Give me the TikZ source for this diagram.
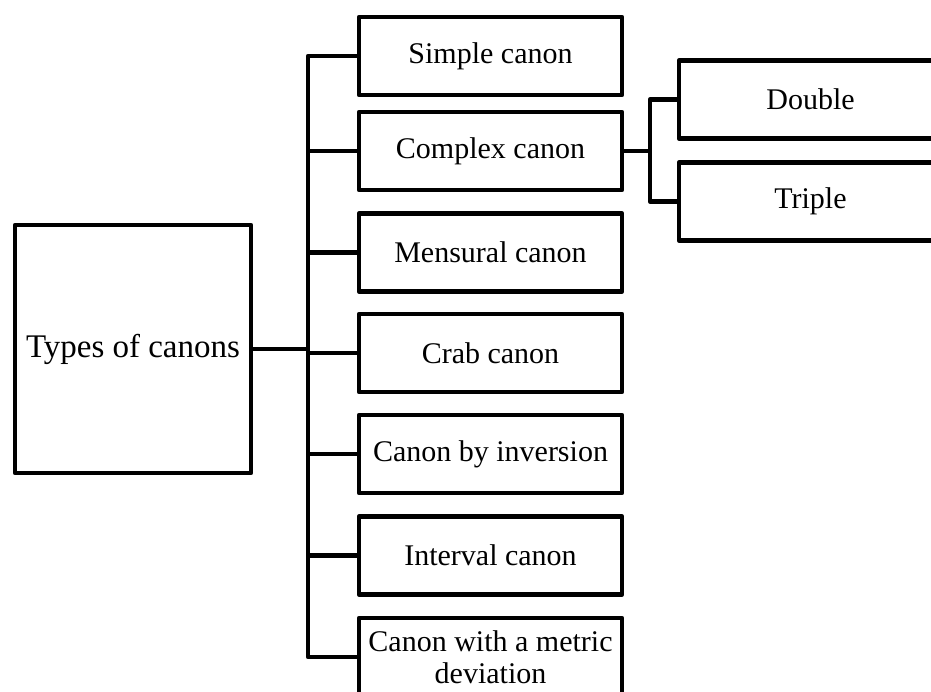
\documentclass[tikz,border=0pt]{standalone}
\usepackage{fontspec}
\setmainfont{Liberation Serif}

\begin{document}
\begin{tikzpicture}[x=1pt,y=-1pt,
  box/.style={draw,line width=4.5pt,line join=round,inner sep=0pt,align=center,
    minimum width=263pt,minimum height=78pt,font=\fontsize{30}{32}\selectfont},
  link/.style={line width=4.5pt,line join=round}]
\useasboundingbox (0,0) rectangle (931,692);

\node[box,minimum width=236pt,minimum height=248pt,font=\fontsize{33}{35}\selectfont] (types) at (133,349) {Types of canons};

\foreach \name/\ypos/\txt in {simple/56/Simple canon,complex/151/Complex canon,
  mensural/252.5/Mensural canon,crab/353/Crab canon,inversion/454/Canon by inversion,
  interval/555.5/Interval canon,metric/657/{Canon with a metric\\deviation}}
  \node[box] (\name) at (490.5,\ypos) {\txt};

\node[box] (double) at (810.5,99.5) {Double};
\node[box] (triple) at (810.5,201.5) {Triple};

\coordinate (trunk) at (308,0);
\coordinate (fork) at (650,0);

\draw[link] (types.east) -- (trunk|-types.east);
\draw[link] (simple.west) -- (trunk|-simple.west) -- (trunk|-metric.west) -- (metric.west);
\foreach \name in {complex,mensural,crab,inversion,interval}
  \draw[link] (trunk|-\name.west) -- (\name.west);

\draw[link] (complex.east) -- (fork|-complex.east);
\draw[link] (double.west) -- (fork|-double.west) -- (fork|-triple.west) -- (triple.west);
\end{tikzpicture}
\end{document}
